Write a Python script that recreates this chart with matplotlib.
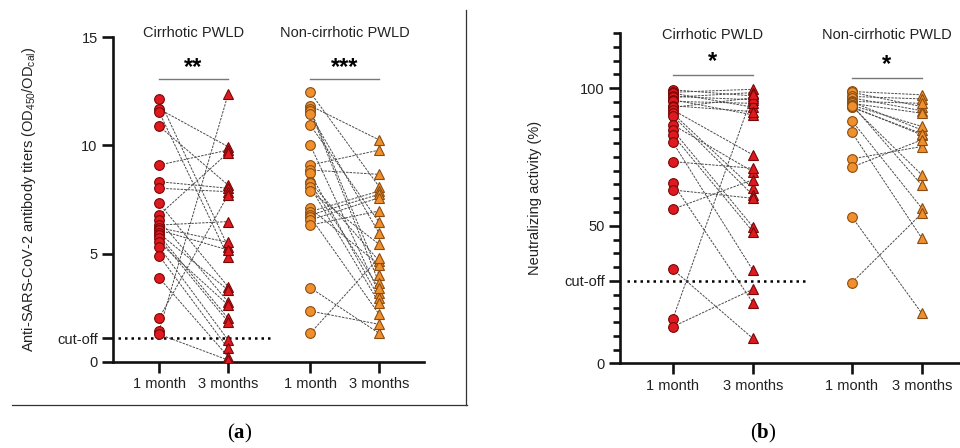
import matplotlib
matplotlib.use("Agg")
import matplotlib.pyplot as plt
from matplotlib.lines import Line2D

plt.rcParams['font.family'] = ['Liberation Sans', 'DejaVu Sans']
plt.rcParams['mathtext.fontset'] = 'custom'
plt.rcParams['mathtext.rm'] = 'Liberation Serif'
plt.rcParams['mathtext.bf'] = 'Liberation Serif:bold'
plt.rcParams['mathtext.default'] = 'regular'

# --- data: panel (a) antibody titers ---
a_cir_1m = [12.14, 11.68, 11.55, 10.89, 9.09, 8.32, 8.02, 7.32, 6.78, 6.55, 6.32, 6.2,
            6.09, 5.94, 5.85, 5.71, 5.52, 5.32, 4.91, 3.89, 2.02, 1.43, 1.28]
a_cir_3m = [5.32, 9.94, 4.86, 8.17, 9.78, 8.02, 7.86, 3.48, 9.66, 2.78, 6.48, 5.52,
            5.17, 3.32, 2.02, 1.86, 2.63, 1.02, 0.63, 0.25, 7.71, 12.35, 0.09]
a_non_1m = [12.45, 11.83, 11.68, 11.6, 11.43, 10.94, 10.02, 9.09, 8.86, 8.71, 8.3, 8.25,
            8.09, 7.89, 7.09, 6.94, 6.78, 6.7, 6.55, 6.32, 3.43, 2.35, 1.32]
a_non_3m = [8.09, 10.25, 4.02, 3.63, 5.94, 6.45, 3.17, 9.78, 8.66, 2.94, 4.66, 3.40,
            2.71, 5.43, 4.48, 7.89, 7.74, 2.20, 7.58, 6.97, 1.32, 1.74, 4.82]
a_cutoff = 1.1
a_stars = ["**", "***"]

# --- data: panel (b) neutralizing activity ---
b_cir_1m = [99.4, 98.5, 98.2, 97.0, 96.7, 95.8, 95.2, 93.6, 93.0, 92.1, 90.9, 90.0,
            86.7, 84.8, 83.0, 80.4, 73.3, 65.5, 63.0, 56.0, 34.2, 16.0, 13.3]
b_cir_3m = [97.2, 99.6, 93.1, 95.8, 98.4, 90.3, 94.5, 91.5, 96.5, 75.8, 63.6, 61.2,
            69.7, 49.7, 47.9, 33.9, 70.9, 22.1, 60.0, 66.7, 9.1, 97.8, 26.9]
b_non_1m = [98.8, 98.5, 97.0, 96.5, 95.2, 95.0, 94.5, 93.8, 93.3, 93.0, 94.0, 93.5,
            88.2, 84.0, 74.3, 71.3, 53.3, 29.3]
b_non_3m = [97.6, 93.3, 96.1, 91.8, 94.5, 84.8, 90.9, 86.1, 83.0, 83.5, 64.8, 68.5,
            56.4, 45.5, 78.8, 81.2, 18.2, 54.5]
b_cutoff = 30
b_stars = ["*", "*"]

groups = ["Cirrhotic PWLD", "Non-cirrhotic PWLD"]
timepoints = ["1 month", "3 months"]

RED, RED_EDGE = "#de1a20", "#760808"
ORANGE, ORANGE_EDGE = "#f0902c", "#8a4c12"
TXT = "#222222"


def paired(ax, x0, x1, v0, v1, color, edge):
    for a, b in zip(v0, v1):
        ax.plot([x0, x1], [a, b], ls=(0, (2.5, 1.2)), lw=0.7, color="#4a4a4a", zorder=2)
    ax.plot([x0] * len(v0), v0, 'o', ms=7, mfc=color, mec=edge, mew=0.8, zorder=3)
    ax.plot([x1] * len(v1), v1, '^', ms=7, mfc=color, mec=edge, mew=0.8, zorder=3)


def style(ax):
    for s in ['top', 'right']:
        ax.spines[s].set_visible(False)
    for s in ['left', 'bottom']:
        ax.spines[s].set_linewidth(1.9)
        ax.spines[s].set_color("#111111")
    ax.tick_params(axis='both', width=1.9, length=8, color="#111111",
                   labelsize=10.5, labelcolor=TXT, pad=3)


fig = plt.figure(figsize=(9.6, 4.48), dpi=100)

# ---------------- panel (a) ----------------
axa = fig.add_axes([0.1177, 0.192, 0.324, 0.7254])
xa = [0, 1, 2.19, 3.19]
paired(axa, xa[0], xa[1], a_cir_1m, a_cir_3m, RED, RED_EDGE)
paired(axa, xa[2], xa[3], a_non_1m, a_non_3m, ORANGE, ORANGE_EDGE)
axa.plot([-0.594, 1.65], [a_cutoff, a_cutoff], color="black", lw=1.8,
         ls=(0, (1, 1.6)), zorder=1)
axa.set_xlim(-0.667, 3.84)
axa.set_ylim(0, 15)
axa.set_yticks([0, a_cutoff, 5, 10, 15])
axa.set_yticklabels(["0", "cut-off", "5", "10", "15"])
axa.set_xticks(xa)
axa.set_xticklabels(timepoints * 2)
axa.set_ylabel(r"Anti-SARS-CoV-2 antibody titers (OD$_{450}$/OD$_{cal}$)",
               fontsize=10.5, color=TXT, labelpad=14)
style(axa)
for i, (g, st) in enumerate(zip(groups, a_stars)):
    x0, x1 = xa[2 * i], xa[2 * i + 1]
    axa.text((x0 + x1) / 2, 15.18, g, ha='center', va='center', fontsize=10.5,
             color=TXT, clip_on=False)
    axa.plot([x0, x1], [13.06, 13.06], color="#777777", lw=1.0)
    axa.text((x0 + x1) / 2, 13.6, st, ha='center', va='center', fontsize=17,
             fontweight='bold', color="black")

# ---------------- panel (b) ----------------
axb = fig.add_axes([0.6458, 0.189, 0.3542, 0.737])
xb = [0, 1, 2.2375, 3.1125]
paired(axb, xb[0], xb[1], b_cir_1m, b_cir_3m, RED, RED_EDGE)
paired(axb, xb[2], xb[3], b_non_1m, b_non_3m, ORANGE, ORANGE_EDGE)
axb.plot([-0.571, 1.679], [b_cutoff, b_cutoff], color="black", lw=1.8,
         ls=(0, (1, 1.6)), zorder=1)
axb.set_xlim(-0.659, 3.59)
axb.set_ylim(0, 120)
axb.set_yticks([0, b_cutoff, 50, 100])
axb.set_yticklabels(["0", "cut-off", "50", "100"])
axb.set_yticks([v for v in range(5, 121, 5) if v not in (30, 50, 100)], minor=True)
axb.tick_params(axis='y', which='minor', length=5, width=1.9, color="#111111")
axb.set_xticks(xb)
axb.set_xticklabels(timepoints * 2)
axb.set_ylabel("Neutralizing activity (%)", fontsize=10.5, color=TXT, labelpad=16)
style(axb)
bar_y = [104.8, 103.7]
for i, (g, st) in enumerate(zip(groups, b_stars)):
    x0, x1 = xb[2 * i], xb[2 * i + 1]
    axb.text((x0 + x1) / 2, 119.3, g, ha='center', va='center', fontsize=10.5,
             color=TXT, clip_on=False)
    axb.plot([x0, x1], [bar_y[i], bar_y[i]], color="#777777", lw=1.0)
    axb.text((x0 + x1) / 2, bar_y[i] + 4.8, st, ha='center', va='center', fontsize=17,
             fontweight='bold', color="black")

# frame around panel (a) and sub-labels
fig.add_artist(Line2D([466 / 960, 466 / 960], [1 - 10 / 448, 1 - 405 / 448],
                      color="#333333", lw=0.9))
fig.add_artist(Line2D([12 / 960, 467 / 960], [1 - 405 / 448, 1 - 405 / 448],
                      color="#333333", lw=0.9))
fig.text(240 / 960, 1 - 433 / 448, r"($\mathbf{a}$)", ha='center', va='center',
         fontsize=15, family='Liberation Serif')
fig.text(763 / 960, 1 - 433 / 448, r"($\mathbf{b}$)", ha='center', va='center',
         fontsize=15, family='Liberation Serif')

fig.savefig("out.png", dpi=100, facecolor="white")
